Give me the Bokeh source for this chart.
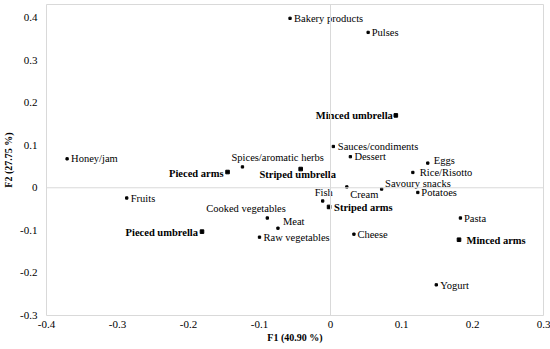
from bokeh.plotting import figure
from bokeh.models import Range1d, Span, FixedTicker, ColumnDataSource
from bokeh.core.properties import value
from bokeh.embed import file_html
from bokeh.resources import INLINE

# ---- data ----
foods = ["Bakery products", "Pulses", "Sauces/condiments", "Dessert", "Eggs",
         "Rice/Risotto", "Savoury snacks", "Potatoes", "Cream", "Fish", "Pasta",
         "Cheese", "Yogurt", "Honey/jam", "Spices/aromatic herbs", "Fruits",
         "Cooked vegetables", "Meat", "Raw vegetables"]
food_f1 = [-0.057, 0.053, 0.004, 0.028, 0.137, 0.116, 0.072, 0.123, 0.023, -0.011,
           0.183, 0.033, 0.149, -0.371, -0.124, -0.287, -0.089, -0.074, -0.100]
food_f2 = [0.398, 0.365, 0.097, 0.073, 0.058, 0.036, -0.003, -0.011, 0.002, -0.031,
           -0.071, -0.109, -0.228, 0.068, 0.049, -0.024, -0.071, -0.095, -0.116]

designs = ["Minced umbrella", "Striped umbrella", "Pieced arms", "Striped arms",
           "Minced arms", "Pieced umbrella"]
design_f1 = [0.092, -0.042, -0.145, -0.002, 0.181, -0.181]
design_f2 = [0.170, 0.044, 0.037, -0.045, -0.122, -0.103]

x_ticks = [-0.4, -0.3, -0.2, -0.1, 0.0, 0.1, 0.2, 0.3]
x_tick_labels = ["-0.4", "-0.3", "-0.2", "-0.1", "0", "0.1", "0.2", "0.3"]
y_ticks = [-0.3, -0.2, -0.1, 0.0, 0.1, 0.2, 0.3, 0.4]
y_tick_labels = ["-0.3", "-0.2", "-0.1", "0", "0.1", "0.2", "0.3", "0.4"]

x_title = "F1 (40.90 %)"
y_title = "F2 (27.75 %)"

# ---- label placement (style) ----
food_dx = [4, 3.5, 4.5, 4, 6, 7, 3.5, 3.5, 3.5, 1, 3.5, 3.5, 4, 4, -11, 4, 18.5, 5, 4]
food_dy = [0, 0, 0, 0, -2.5, 0.5, -6, 0.5, 8, -8.5, 0, 0.5, 0.5, 0, -9, 0.5, -10, -7, 0]
food_align = ["left", "left", "left", "left", "left", "left", "left", "left", "left",
              "center", "left", "left", "left", "left", "left", "left", "right",
              "left", "left"]
design_dx = [-3, -3, -4, 5, 7.5, -4]
design_dy = [0, 5.5, 1, 0.5, 0.5, 0.5]
design_align = ["right", "center", "right", "left", "left", "right"]

FONT = "Liberation Serif"
GRID = "#d9d9d9"

p = figure(frame_width=497, frame_height=311, output_backend="svg",
           toolbar_location=None,
           x_range=Range1d(-0.4, 0.3), y_range=Range1d(-0.3, 0.4305),
           min_border_left=43, min_border_right=8, min_border_top=4,
           min_border_bottom=32)
p.outline_line_color = GRID
p.outline_line_width = 1
p.xgrid.visible = False
p.ygrid.visible = False
p.background_fill_color = "white"
p.border_fill_color = "white"

p.add_layout(Span(location=0, dimension="width", line_color=GRID, line_width=1))
p.add_layout(Span(location=0, dimension="height", line_color=GRID, line_width=1))

for ax, ticks, labels in ((p.xaxis[0], x_ticks, x_tick_labels),
                          (p.yaxis[0], y_ticks, y_tick_labels)):
    ax.ticker = FixedTicker(ticks=ticks)
    ax.major_label_overrides = {t: l for t, l in zip(ticks, labels)}
    ax.axis_line_color = None
    ax.major_tick_line_color = None
    ax.minor_tick_line_color = None
    ax.major_tick_out = 0
    ax.major_tick_in = 0
    ax.minor_tick_out = 0
    ax.major_label_text_font = FONT
    ax.major_label_text_font_size = "11px"
    ax.major_label_text_color = "#000000"
    ax.axis_label_text_font = FONT
    ax.axis_label_text_font_size = "10px"
    ax.axis_label_text_font_style = "bold"
    ax.axis_label_text_color = "#000000"

p.xaxis.axis_label = x_title
p.yaxis.axis_label = y_title
p.xaxis.major_label_standoff = 5
p.xaxis.axis_label_standoff = 1
p.yaxis.major_label_standoff = 9
p.yaxis.axis_label_standoff = 3

src_f = ColumnDataSource(dict(x=food_f1, y=food_f2, t=foods, dx=food_dx,
                              dy=food_dy, al=food_align))
src_d = ColumnDataSource(dict(x=design_f1, y=design_f2, t=designs, dx=design_dx,
                              dy=design_dy, al=design_align))

p.scatter("x", "y", source=src_f, marker="square", size=2.3, color="#000000")
p.scatter("x", "y", source=src_d, marker="square", size=3.6, color="#000000")

p.text("x", "y", text="t", source=src_f, x_offset="dx", y_offset="dy",
       text_align="al", text_baseline="middle", text_font=value(FONT),
       text_font_size="10.5px", text_color="#000000")
p.text("x", "y", text="t", source=src_d, x_offset="dx", y_offset="dy",
       text_align="al", text_baseline="middle", text_font=value(FONT),
       text_font_size="10.5px", text_font_style="bold", text_color="#000000")

open("out.html", "w").write(file_html(p, INLINE))
